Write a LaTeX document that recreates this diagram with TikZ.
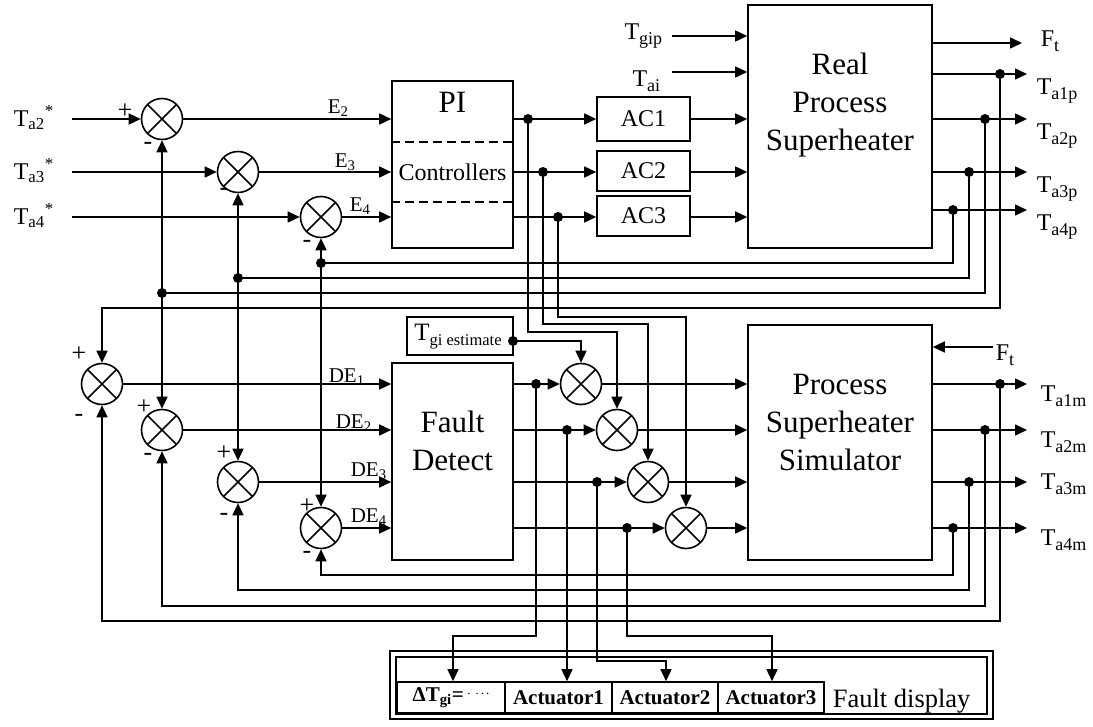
\documentclass[tikz,border=0pt]{standalone}
\usepackage{fontspec}
\setmainfont{Liberation Serif}
\usetikzlibrary{arrows.meta}
\newcommand{\sbs}[1]{\textsubscript{#1}}
\newcommand{\sbr}[1]{\raisebox{-5pt}{\fontsize{18}{18}\selectfont #1}}
\begin{document}
\begin{tikzpicture}[x=1pt,y=-1pt,line width=1.6pt,
  arr/.style={-{Triangle[length=12pt,width=11pt]}},
  blk/.style={draw,rectangle,inner sep=0pt},
  sumnode/.style={draw,circle,minimum size=41pt,inner sep=0pt,
    path picture={\draw[line width=1.6pt] (path picture bounding box.north west) -- (path picture bounding box.south east)
      (path picture bounding box.north east) -- (path picture bounding box.south west);}},
  tl/.style={inner sep=0pt,font=\fontsize{24}{28}\selectfont},
  el/.style={inner sep=0pt,font=\fontsize{21}{25}\selectfont},
  sg/.style={inner sep=0pt,font=\fontsize{26}{30}\selectfont},
  big/.style={inner sep=0pt,align=center,font=\fontsize{31}{38}\selectfont},
  mid/.style={font=\fontsize{24}{28}\selectfont},
  cell/.style={draw,rectangle,inner sep=0pt,minimum height=31pt,font=\bfseries\fontsize{21}{25}\selectfont},
  jd/.style={circle,fill,inner sep=0pt,minimum size=10pt},
]
\useasboundingbox (0,0) rectangle (1093,726);

% ---------- boxes ----------
\node[blk,minimum width=184pt,minimum height=243pt] (RP) at (840,126.5) {};
\node[blk,minimum width=121pt,minimum height=167pt] (PI) at (452.5,164.5) {};
\node[blk,mid,minimum width=93pt,minimum height=44pt] (AC1) at (643.5,119) {AC1};
\node[blk,mid,minimum width=93pt,minimum height=40pt] (AC2) at (643.5,171) {AC2};
\node[blk,mid,minimum width=93pt,minimum height=40pt] (AC3) at (643.5,216) {AC3};
\node[blk,minimum width=184pt,minimum height=235pt] (SIM) at (840,442.5) {};
\node[blk,minimum width=121pt,minimum height=197pt] (FD) at (452.5,461.5) {};
\node[blk,minimum width=106pt,minimum height=38pt] (TGE) at (460,336) {};

\node[big] (tRP) at (840,105) {Real\\Process\\Superheater};
\node[big] (tPI) at (452.5,102) {PI};
\node[mid,inner sep=0pt] (tCtrl) at (452.5,172) {Controllers};
\node[big] (tFD) at (452.5,441) {Fault\\Detect};
\node[big] (tSIM) at (840,422) {Process\\Superheater\\Simulator};
\node[inner sep=0pt,font=\fontsize{25}{28}\selectfont] (tTGE) at (458,337) {T\raisebox{-5pt}{\fontsize{16.5}{17}\selectfont gi estimate}};

\coordinate (ds1) at (452,142);
\coordinate (ds2) at (452,202);
\draw[dash pattern=on 9pt off 5pt] (PI.west |- ds1) -- (PI.east |- ds1);
\draw[dash pattern=on 9pt off 5pt] (PI.west |- ds2) -- (PI.east |- ds2);

% ---------- fault display ----------
\node[draw,rectangle,inner sep=0pt,minimum width=603pt,minimum height=68pt] (FDo) at (691.5,685) {};
\node[draw,rectangle,inner sep=0pt,minimum width=591pt,minimum height=57pt] (FDi) at (691.5,685.5) {};
\node[cell,minimum width=108pt] (C0) at (451,697.5) {ΔT\sbs{gi}=\,\raisebox{7pt}{\mdseries\fontsize{13}{13}\selectfont .\hspace{5pt}.\hspace{2pt}.\hspace{2pt}.}};
\node[cell,minimum width=107pt] (C1) at (558.5,697.5) {Actuator1};
\node[cell,minimum width=106pt] (C2) at (665,697.5) {Actuator2};
\node[cell,minimum width=106pt] (C3) at (771,697.5) {Actuator3};
\node[inner sep=0pt,anchor=base west,font=\fontsize{26.5}{30}\selectfont] (tDisp) at (832,707) {Fault display};

% ---------- summing junctions ----------
\node[sumnode] (S1) at (162,119) {};
\node[sumnode] (S2) at (238,172) {};
\node[sumnode] (S3) at (321,217) {};
\node[sumnode] (LS1) at (102,384) {};
\node[sumnode] (LS2) at (162,430) {};
\node[sumnode] (LS3) at (238,482) {};
\node[sumnode] (LS4) at (321,528) {};
\node[sumnode] (L1) at (581,384) {};
\node[sumnode] (L2) at (617,430) {};
\node[sumnode] (L3) at (648,482) {};
\node[sumnode] (L4) at (686,528) {};

% ---------- junction dots ----------
\node[jd] (pd1) at (528,119) {};
\node[jd] (pd2) at (543,172) {};
\node[jd] (pd3) at (558,217) {};
\node[jd] (rd1) at (1000,74) {};
\node[jd] (rd2) at (985,119) {};
\node[jd] (rd3) at (969,172) {};
\node[jd] (rd4) at (953,210) {};
\node[jd] (j1) at (162,293) {};
\node[jd] (j2) at (238,278) {};
\node[jd] (j3) at (321,263) {};
\node[jd] (tg) at (513,341) {};
\node[jd] (fd1) at (536,384) {};
\node[jd] (fd2) at (567,430) {};
\node[jd] (fd3) at (597,482) {};
\node[jd] (fd4) at (627,528) {};
\node[jd] (sd1) at (1000,384) {};
\node[jd] (sd2) at (985,430) {};
\node[jd] (sd3) at (969,482) {};
\node[jd] (sd4) at (953,528) {};

% ---------- coordinates ----------
\coordinate (inA2) at (72,119);
\coordinate (inA3) at (72,172);
\coordinate (inA4) at (72,217);
\coordinate (cgip) at (672,36);
\coordinate (cai) at (672,72);
\coordinate (oFt) at (1022,43);
\coordinate (oa1) at (1027,74);
\coordinate (oa2) at (1027,119);
\coordinate (oa3) at (1027,172);
\coordinate (oa4) at (1027,210);
\coordinate (c1) at (102,308);
\coordinate (v1) at (528,332);
\coordinate (v2) at (543,324);
\coordinate (v3) at (558,317);
\coordinate (cFt2) at (993,347);
\coordinate (om1) at (1027,384);
\coordinate (om2) at (1027,430);
\coordinate (om3) at (1027,482);
\coordinate (om4) at (1027,528);
\coordinate (b4) at (321,575);
\coordinate (b3) at (238,590);
\coordinate (b2) at (162,606);
\coordinate (b1) at (102,621);
\coordinate (e0) at (453,636);
\coordinate (e2) at (666,661);
\coordinate (e3) at (772,636);

% ---------- top connectors ----------
\draw[arr] (inA2) -- (S1.west);
\draw[arr] (inA3) -- (S2.west);
\draw[arr] (inA4) -- (S3.west);
\draw[arr] (S1.east) -- (PI.west |- S1.east);
\draw[arr] (S2.east) -- (PI.west |- S2.east);
\draw[arr] (S3.east) -- (PI.west |- S3.east);
\draw[arr] (PI.east |- pd1.center) -- (AC1.west |- pd1.center);
\draw[arr] (PI.east |- pd2.center) -- (AC2.west |- pd2.center);
\draw[arr] (PI.east |- pd3.center) -- (AC3.west |- pd3.center);
\draw[arr] (AC1.east) -- (RP.west |- AC1.east);
\draw[arr] (AC2.east |- pd2.center) -- (RP.west |- pd2.center);
\draw[arr] (AC3.east |- pd3.center) -- (RP.west |- pd3.center);
\draw[arr] (cgip) -- (RP.west |- cgip);
\draw[arr] (cai) -- (RP.west |- cai);
\draw[arr] (RP.east |- oFt) -- (oFt);
\draw[arr] (RP.east |- oa1) -- (oa1);
\draw[arr] (RP.east |- oa2) -- (oa2);
\draw[arr] (RP.east |- oa3) -- (oa3);
\draw[arr] (RP.east |- oa4) -- (oa4);

% top feedback
\draw (rd4.center) |- (j3.center);
\draw (rd3.center) |- (j2.center);
\draw (rd2.center) |- (j1.center);
\draw[arr] (rd1.center) |- (c1) -- (LS1.north);
\draw[arr] (j1.center) -- (S1.south);
\draw[arr] (j1.center) -- (LS2.north);
\draw[arr] (j2.center) -- (S2.south);
\draw[arr] (j2.center) -- (LS3.north);
\draw[arr] (j3.center) -- (S3.south);
\draw[arr] (j3.center) -- (LS4.north);

% PI outputs to lower summers
\draw[arr] (pd1.center) -- (v1) -| (L2.north);
\draw[arr] (pd2.center) -- (v2) -| (L3.north);
\draw[arr] (pd3.center) -- (v3) -| (L4.north);
\draw[arr] (tg.center) -| (L1.north);

% ---------- lower connectors ----------
\draw[arr] (LS1.east) -- (FD.west |- LS1.east);
\draw[arr] (LS2.east) -- (FD.west |- LS2.east);
\draw[arr] (LS3.east) -- (FD.west |- LS3.east);
\draw[arr] (LS4.east) -- (FD.west |- LS4.east);
\draw[arr] (FD.east |- L1.west) -- (L1.west);
\draw[arr] (FD.east |- L2.west) -- (L2.west);
\draw[arr] (FD.east |- L3.west) -- (L3.west);
\draw[arr] (FD.east |- L4.west) -- (L4.west);
\draw[arr] (L1.east) -- (SIM.west |- L1.east);
\draw[arr] (L2.east) -- (SIM.west |- L2.east);
\draw[arr] (L3.east) -- (SIM.west |- L3.east);
\draw[arr] (L4.east) -- (SIM.west |- L4.east);
\draw[arr] (cFt2) -- (SIM.east |- cFt2);
\draw[arr] (SIM.east |- om1) -- (om1);
\draw[arr] (SIM.east |- om2) -- (om2);
\draw[arr] (SIM.east |- om3) -- (om3);
\draw[arr] (SIM.east |- om4) -- (om4);

% lower feedback
\draw[arr] (sd4.center) |- (b4) -- (LS4.south);
\draw[arr] (sd3.center) |- (b3) -- (LS3.south);
\draw[arr] (sd2.center) |- (b2) -- (LS2.south);
\draw[arr] (sd1.center) |- (b1) -- (LS1.south);

% to fault display
\draw[arr] (fd1.center) |- (e0) -- (e0 |- C0.north);
\draw[arr] (fd2.center) -- (fd2.center |- C1.north);
\draw[arr] (fd3.center) |- (e2) -- (e2 |- C2.north);
\draw[arr] (fd4.center) |- (e3) -- (e3 |- C3.north);

% ---------- labels ----------
\node[tl,anchor=base west] (lA2) at (13,126) {T\sbs{a2}\textsuperscript{*}};
\node[tl,anchor=base west] (lA3) at (13,179) {T\sbs{a3}\textsuperscript{*}};
\node[tl,anchor=base west] (lA4) at (13,224) {T\sbs{a4}\textsuperscript{*}};
\node[tl,anchor=base east] (lgip) at (663,39) {T\sbr{gip}};
\node[tl,anchor=base east] (lai) at (661,86) {T\sbr{ai}};
\node[tl,anchor=base west] (lFt) at (1040,46) {F\sbr{t}};
\node[tl,anchor=base west] (la1p) at (1036,94) {T\sbr{a1p}};
\node[tl,anchor=base west] (la2p) at (1036,139) {T\sbr{a2p}};
\node[tl,anchor=base west] (la3p) at (1036,192) {T\sbr{a3p}};
\node[tl,anchor=base west] (la4p) at (1036,230) {T\sbr{a4p}};
\node[tl,anchor=base west] (lFt2) at (995,360) {F\sbr{t}};
\node[tl,anchor=base west] (la1m) at (1040,401) {T\sbr{a1m}};
\node[tl,anchor=base west] (la2m) at (1040,447) {T\sbr{a2m}};
\node[tl,anchor=base west] (la3m) at (1040,489) {T\sbr{a3m}};
\node[tl,anchor=base west] (la4m) at (1040,545) {T\sbr{a4m}};

\node[el,anchor=base west] (lE2) at (327,113) {E\sbs{2}};
\node[el,anchor=base west] (lE3) at (334,167) {E\sbs{3}};
\node[el,anchor=base west] (lE4) at (349,211) {E\sbs{4}};
\node[el,anchor=base west] (lDE1) at (328,382) {DE\sbs{1}};
\node[el,anchor=base west] (lDE2) at (335,428) {DE\sbs{2}};
\node[el,anchor=base west] (lDE3) at (350,476) {DE\sbs{3}};
\node[el,anchor=base west] (lDE4) at (350,522) {DE\sbs{4}};

\node[sg] (p1) at (125,111) {+};
\node[sg] (m1) at (148,146) {-};
\node[sg] (m2) at (224,192) {-};
\node[sg] (m3) at (307,244) {-};
\node[sg] (p4) at (79,354) {+};
\node[sg] (m4) at (79,418) {-};
\node[sg] (p5) at (144,407) {+};
\node[sg] (m5) at (148,457) {-};
\node[sg] (p6) at (224,453) {+};
\node[sg] (m6) at (224,517) {-};
\node[sg] (p7) at (307,506) {+};
\node[sg] (m7) at (307,555) {-};
\end{tikzpicture}
\end{document}
